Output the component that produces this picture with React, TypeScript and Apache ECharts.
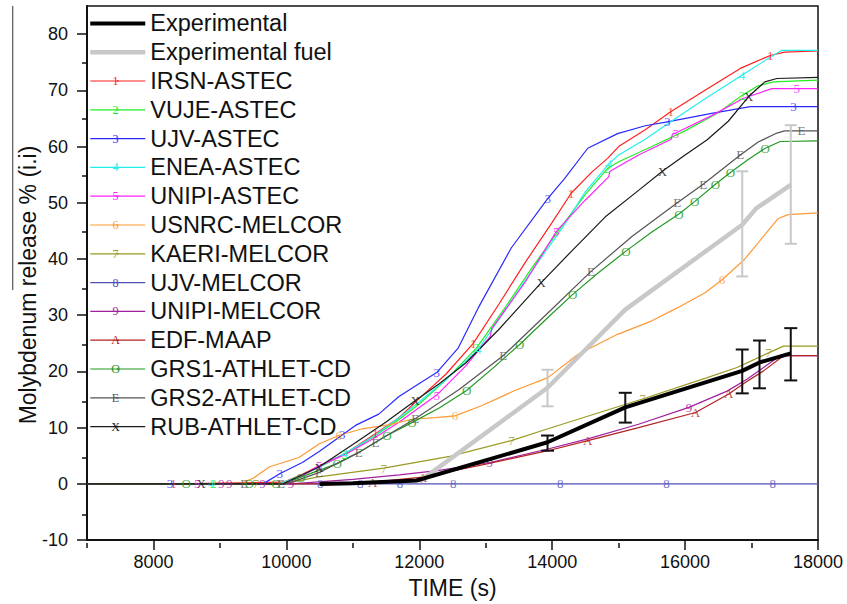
import React, { useEffect, useRef } from 'react';
import * as echarts from 'echarts';

// ---- model names, colours and glyphs ----
const modelNames = [
  'IRSN-ASTEC', 'VUJE-ASTEC', 'UJV-ASTEC', 'ENEA-ASTEC', 'UNIPI-ASTEC',
  'USNRC-MELCOR', 'KAERI-MELCOR', 'UJV-MELCOR', 'UNIPI-MELCOR', 'EDF-MAAP',
  'GRS1-ATHLET-CD', 'GRS2-ATHLET-CD', 'RUB-ATHLET-CD',
];
const modelColors = [
  '#ff2020', '#22ee22', '#2a2aff', '#22eeee', '#ff22ff',
  '#ff9933', '#999922', '#5050b8', '#a020a0', '#b22222',
  '#229922', '#555555', '#1a1a1a',
];
const modelGlyphs = ['1', '2', '3', '4', '5', '6', '7', '8', '9', 'A', 'O', 'E', 'X'];

// ---- data: [time (s), release %, glyph flag] ----
const irsnAstec = [[7000,0],[8300,0,1],[9950,0.3],[10200,1.5],[10500,3.2],[10900,5.5],[11340,8.9,1],[11700,11.8],[12000,15.2],[12400,19.5],[12812,25,1],[13200,32],[13600,39.5],[14000,46.5],[14285,51.7,1],[14600,55.5],[14834,57.9],[15000,60],[15400,63],[15783,66.2,1],[16300,70],[16831,73.9],[17281,76.2,1],[17500,76.8],[18000,77]];
const vujeAstec = [[7000,0],[8900,0,1],[9900,0],[10200,1.3],[10500,3.0],[10880,5.3,1],[11300,8.3],[11700,11.5],[12000,14.2],[12400,18.5],[12862,24.2,1],[13300,31.5],[13700,38.5],[14086,44.9],[14500,51.5],[14834,56.1,1],[15000,57.3],[15500,60],[15983,62.7],[16500,66],[16856,69.1,1],[17100,70.8],[17331,71.5],[18000,71.8]];
const ujvAstec = [[7000,0],[8250,0,1],[9650,0],[9900,1.8,1],[10240,3.8],[10500,5.8],[10840,8.7,1],[11040,10.4],[11390,12.4],[11690,15.5],[11900,17.1],[12262,19.8,1],[12588,24.2],[12887,31.3],[13386,42],[13935,50.8,1],[14186,54.3],[14535,59.7],[14984,62.3],[15400,63.7],[15733,64.4,1],[16400,65.9],[16981,67.1],[17630,67.1,1],[18000,67.1]];
const eneaAstec = [[7000,0],[8870,0,1],[9900,0],[10200,1.4],[10500,3.1],[10880,5.4,1],[11300,8.4],[11700,11.8],[12000,14.6],[12400,18.5],[12887,23.9,1],[13300,31],[13700,38],[14186,46.1],[14500,52],[14860,57,1],[15000,58.5],[15400,61.3],[15783,64.4],[16300,68.5],[16856,72.7,1],[17281,75.9],[17450,77.1],[18000,77.1]];
const unipiAstec = [[7000,0],[8660,0,1],[9950,0],[10200,1.2],[10490,3.2,1],[10900,5.3],[11300,8],[11700,11],[12000,13.6],[12262,15.8,1],[12700,21],[13070,26.3],[13090,27.6],[13600,36],[14061,44.9,1],[14500,50.5],[14850,54.6],[14870,55.6],[15300,58.5],[15790,61.3],[15810,62.2],[15858,62.4,1],[16400,65.5],[16881,68.6],[17306,70.3],[17680,70.3,1],[18000,70.3]];
const usnrcMelcor = [[7000,0],[9300,0],[9500,1.0],[9740,3.0],[10190,4.7],[10490,7.1],[10790,8.6,1],[11140,9.8],[11540,10.5],[11889,11.5],[12238,11.8],[12538,12.1,1],[12937,13.9],[13437,16.6],[13936,18.9],[14385,23],[14984,26.6],[15500,29],[15883,31.3],[16300,34],[16557,36.3,1],[16900,40],[17281,45.5],[17400,47.2],[17550,47.9],[18000,48.2]];
const kaeriMelcor = [[7000,0],[9540,0,1],[9950,0],[10460,1.2],[11465,2.8,1],[12460,4.9],[13386,7.7,1],[13936,9.8],[15358,15.1,1],[16333,18.9],[16782,20.7],[17256,23.3,1],[17481,24.5],[18000,24.5]];
const ujvMelcor = [[7000,0],[10510,0,1],[11110,0,1],[11710,0,1],[12510,0,1],[14120,0,1],[15720,0,1],[17320,0,1],[18000,0]];
const unipiMelcor = [[7000,0],[9020,0,1],[9140,0,1],[9640,0,1],[10070,0,1],[11000,0.8],[11700,1.6],[12300,2.4],[13062,3.8,1],[13936,6.2],[14535,8.0],[15300,10.6],[16057,13.6,1],[16632,16.5],[16931,18.6],[17181,20.7],[17431,22.8],[18000,22.8]];
const edfMaap = [[7000,0],[11000,0],[11300,0.3,1],[12050,1.2,1],[13000,3.5],[13936,5.9],[14535,7.7,1],[15300,10],[16157,12.7,1],[16657,16,1],[16900,18],[17181,20.1],[17481,22.8],[18000,22.8]];
const grs1Athlet = [[7000,0],[8494,0,1],[9442,0,1],[9842,0,1],[9950,0],[10216,1.2,1],[10765,3.6,1],[11090,5.6],[11513,8.6,1],[11889,10.9,1],[12300,13.5],[12712,16.6,1],[13100,20.5],[13511,24.8,1],[13900,29.2],[14310,33.7,1],[14700,37.6],[15109,41.4,1],[15500,44.8],[15908,48,1],[16143,50.2,1],[16457,53.3,1],[16682,55.4,1],[16950,57.7],[17206,59.7,1],[17431,60.9],[18000,61]];
const grs2Athlet = [[7000,0],[9367,0,1],[9917,0,1],[10000,0],[10200,0.8],[10490,2.0,1],[11090,5.6,1],[11340,7.4,1],[11938,11.6,1],[12600,16.8],[13262,22.8,1],[13900,30],[14585,37.8,1],[15200,44],[15883,50,1],[16272,53.3,1],[16831,58.5,1],[17100,60.8],[17381,62.4],[17500,62.8],[17750,62.8,1],[18000,62.8]];
const rubAthlet = [[7000,0],[8720,0,1],[9950,0],[10200,1.4],[10490,3.0,1],[11000,7],[11500,11],[11938,14.8,1],[12300,17.8],[12700,21.5],[13200,27.5],[13835,35.8,1],[14300,41.5],[14800,47.5],[15300,52.2],[15658,55.6,1],[16000,58.5],[16333,61.2],[16650,64.5],[16956,68.9,1],[17200,71.5],[17381,72.1],[18000,72.3]];

const experimental = [[10500,0],[11000,0.1],[11960,0.6],[13930,7.4],[15100,13.6],[16860,20.1],[17120,21.6],[17590,23.2]];
const experimentalFuel = [[12000,0.4],[13930,17.1],[15100,31.0],[16860,46.1],[17070,49.0],[17590,53.2]];

const expErrT = [13930, 15100, 16860, 17120, 17590];
const expErrLow = [5.9, 10.9, 16.1, 17.0, 18.4];
const expErrHigh = [8.6, 16.2, 23.9, 25.5, 27.7];
const fuelErrT = [13930, 16860, 17590];
const fuelErrLow = [13.8, 36.9, 42.7];
const fuelErrHigh = [20.3, 55.6, 63.8];

const xLabelValues = [8000, 10000, 12000, 14000, 16000, 18000];
const xMinorValues = [7000, 9000, 11000, 13000, 15000, 17000];
const yLabelValues = [-10, 0, 10, 20, 30, 40, 50, 60, 70, 80];
const yMinorValues = [-5, 5, 15, 25, 35, 45, 55, 65, 75];

const modelData = [
  irsnAstec, vujeAstec, ujvAstec, eneaAstec, unipiAstec,
  usnrcMelcor, kaeriMelcor, ujvMelcor, unipiMelcor, edfMaap,
  grs1Athlet, grs2Athlet, rubAthlet,
];

const SANS = 'Liberation Sans, Arial, Helvetica, sans-serif';
const SERIF = 'Liberation Serif, Times New Roman, serif';

const EXP_W = 4;
const FUEL_W = 4.5;
const MODEL_W = 1.2;
const FUEL_COLOR = '#c8c8c8';

function errRender(color: string, half: number) {
  return (params: any, api: any) => {
    const x = api.value(0);
    const a = api.coord([x, api.value(2)]);
    const b = api.coord([x, api.value(1)]);
    const style = { stroke: color, lineWidth: 2 };
    return {
      type: 'group',
      children: [
        { type: 'line', shape: { x1: a[0], y1: a[1], x2: b[0], y2: b[1] }, style },
        { type: 'line', shape: { x1: a[0] - half, y1: a[1], x2: a[0] + half, y2: a[1] }, style },
        { type: 'line', shape: { x1: b[0] - half, y1: b[1], x2: b[0] + half, y2: b[1] }, style },
      ],
    };
  };
}

function buildOption() {
  const series: any[] = [];
  modelData.forEach((d, i) => {
    series.push({
      type: 'line', name: modelNames[i], data: d.map((p) => [p[0], p[1]]),
      symbol: 'none', showSymbol: false, smooth: false,
      lineStyle: { color: modelColors[i], width: MODEL_W }, itemStyle: { color: modelColors[i] },
      z: 2, silent: true,
    });
  });
  modelData.forEach((d, i) => {
    series.push({
      type: 'scatter', name: modelNames[i] + ' markers',
      data: d.filter((p) => p[2]).map((p) => [p[0], p[1]]),
      symbolSize: 1, itemStyle: { color: 'rgba(0,0,0,0)' },
      label: {
        show: true, position: 'inside', formatter: modelGlyphs[i],
        color: modelColors[i], fontSize: 13, fontFamily: SERIF,
      },
      z: 3, silent: true,
    });
  });
  series.push({
    type: 'line', name: 'Experimental fuel', data: experimentalFuel,
    symbol: 'none', lineStyle: { color: FUEL_COLOR, width: FUEL_W }, itemStyle: { color: FUEL_COLOR },
    z: 4, silent: true,
  });
  series.push({
    type: 'custom', name: 'fuel errors', coordinateSystem: 'cartesian2d',
    data: fuelErrT.map((t, k) => [t, fuelErrLow[k], fuelErrHigh[k]]),
    encode: { x: 0, y: [1, 2] }, renderItem: errRender(FUEL_COLOR, 6), z: 4, silent: true,
  });
  series.push({
    type: 'line', name: 'Experimental', data: experimental,
    symbol: 'none', lineStyle: { color: '#000', width: EXP_W }, itemStyle: { color: '#000' },
    z: 5, silent: true,
  });
  series.push({
    type: 'custom', name: 'exp errors', coordinateSystem: 'cartesian2d',
    data: expErrT.map((t, k) => [t, expErrLow[k], expErrHigh[k]]),
    encode: { x: 0, y: [1, 2] }, renderItem: errRender('#111', 6.5), z: 5, silent: true,
  });
  // invisible series for the minor-tick grid
  series.push({ type: 'line', data: [], xAxisIndex: 1, yAxisIndex: 1, silent: true });

  const legendData = [
    { name: 'Experimental', lineStyle: { width: EXP_W, color: '#000' } },
    { name: 'Experimental fuel', lineStyle: { width: FUEL_W, color: FUEL_COLOR } },
    ...modelNames.map((n, i) => ({ name: n, lineStyle: { width: MODEL_W, color: modelColors[i] } })),
  ];
  const rowH = 28.8;
  const legendTop = 9;
  const glyphGraphics = modelGlyphs.map((g, i) => ({
    type: 'text', x: 115.5, y: legendTop + rowH / 2 + rowH * (i + 2),
    style: { text: g, fill: modelColors[i], font: `12px ${SERIF}`, textAlign: 'center', textVerticalAlign: 'middle' },
    z: 100,
  }));

  const gridRect = { left: 87, right: 29, top: 6, bottom: 61 };

  return {
    animation: false,
    backgroundColor: '#fff',
    grid: [
      { ...gridRect, show: true, borderColor: '#111', borderWidth: 1.5, backgroundColor: 'transparent' },
      { ...gridRect, show: false },
    ],
    xAxis: [
      {
        type: 'value', gridIndex: 0, min: 7000, max: 18000, position: 'bottom',
        name: 'TIME (s)', nameLocation: 'middle', nameGap: 33,
        nameTextStyle: { fontSize: 23, fontFamily: SANS, color: '#111' },
        axisLine: { show: true, onZero: false, lineStyle: { color: '#111', width: 2 } },
        axisTick: { show: true, customValues: xLabelValues, length: 10, lineStyle: { color: '#111', width: 1.5 } },
        axisLabel: {
          customValues: xLabelValues, fontSize: 18, fontFamily: SANS, color: '#111', margin: 13,
          formatter: (v: number) => String(v),
        },
        splitLine: { show: false },
      },
      {
        type: 'value', gridIndex: 1, min: 7000, max: 18000, position: 'bottom',
        axisLine: { show: false, onZero: false },
        axisTick: { show: true, customValues: xMinorValues, length: 5, lineStyle: { color: '#111', width: 1.5 } },
        axisLabel: { show: false },
        splitLine: { show: false },
      },
    ],
    yAxis: [
      {
        type: 'value', gridIndex: 0, min: -10, max: 85, position: 'left',
        axisLine: { show: true, onZero: false, lineStyle: { color: '#111', width: 2 } },
        axisTick: { show: true, customValues: yLabelValues, length: 10, lineStyle: { color: '#111', width: 1.5 } },
        axisLabel: {
          customValues: yLabelValues, fontSize: 18, fontFamily: SANS, color: '#111', margin: 19,
          formatter: (v: number) => String(v),
        },
        splitLine: { show: false },
      },
      {
        type: 'value', gridIndex: 1, min: -10, max: 85, position: 'left',
        axisLine: { show: false, onZero: false },
        axisTick: { show: true, customValues: yMinorValues, length: 5, lineStyle: { color: '#111', width: 1.5 } },
        axisLabel: { show: false },
        splitLine: { show: false },
      },
    ],
    legend: {
      data: legendData, orient: 'vertical', left: 88, top: legendTop, padding: 0,
      itemWidth: 55, itemHeight: 2, itemGap: 0, selectedMode: false,
      textStyle: { fontSize: 23.5, fontFamily: SANS, color: '#111', lineHeight: rowH },
    },
    graphic: [
      {
        type: 'text', x: 28, y: 285, rotation: Math.PI / 2,
        style: {
          text: 'Molybdenum release % (i.i)', font: `23px ${SANS}`, fill: '#111',
          textAlign: 'center', textVerticalAlign: 'middle',
        },
      },
      { type: 'line', shape: { x1: 12.7, y1: 6, x2: 12.7, y2: 290 }, style: { stroke: '#555', lineWidth: 1.2 } },
      ...glyphGraphics,
    ],
    series,
  };
}

export default function App() {
  const ref = useRef<HTMLDivElement>(null);
  useEffect(() => {
    if (!ref.current) return;
    const chart = echarts.init(ref.current, null, { renderer: 'svg' });
    chart.setOption(buildOption() as any);
    return () => chart.dispose();
  }, []);
  return (
    <div
      ref={ref}
      style={{ position: 'fixed', left: 0, top: 0, width: 847, height: 604, background: '#fff' }}
    />
  );
}
